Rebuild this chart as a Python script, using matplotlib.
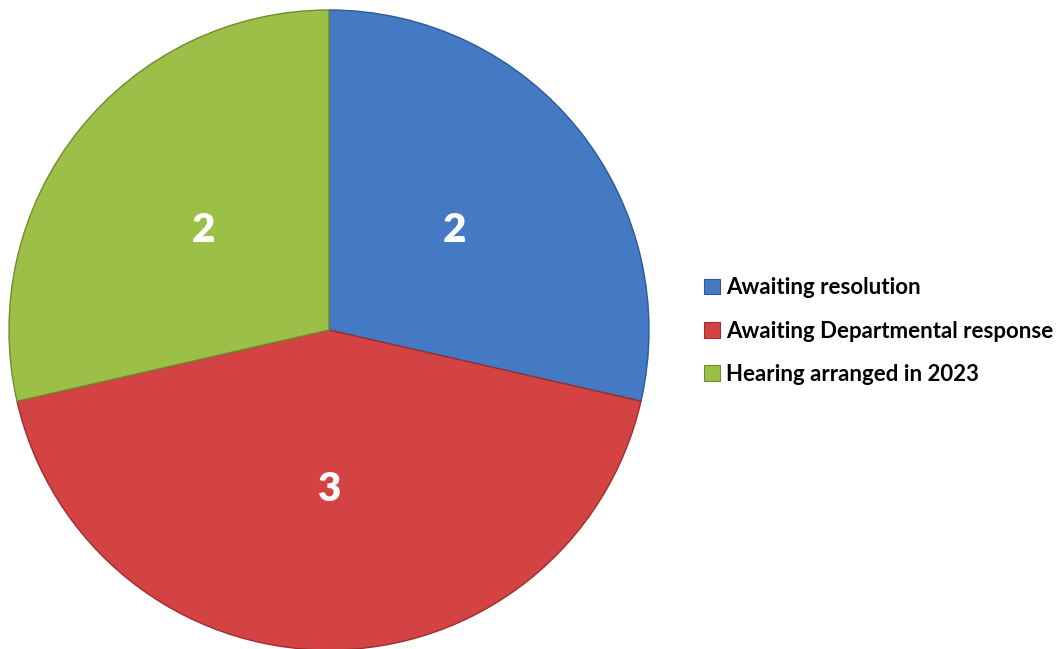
import matplotlib
matplotlib.use("Agg")
import matplotlib.pyplot as plt
import numpy as np
from matplotlib.patches import Patch

categories = ["Awaiting resolution", "Awaiting Departmental response", "Hearing arranged in 2023"]
values = [2, 3, 2]
colors = ["#4479c4", "#d44343", "#9cbf48"]
edge_colors = ["#2d5a94", "#9e2e2e", "#6f8c2e"]

plt.rcParams['font.family'] = ['Lato', 'DejaVu Sans']

fig = plt.figure(figsize=(10.59, 6.49), dpi=100)
ax = fig.add_axes([9/1059, -1/649, 640/1059, 640/649])

wedges, texts, autotexts = ax.pie(values, colors=colors, startangle=90, counterclock=False,
                                  autopct=lambda p: f"{int(round(p*sum(values)/100))}",
                                  pctdistance=0.5,
                                  wedgeprops=dict(linewidth=1.0),
                                  textprops=dict(color="white", fontsize=29, fontweight="heavy"))
for w, ec in zip(wedges, edge_colors):
    w.set_edgecolor(ec)
ax.set_xlim(-1.0, 1.0)
ax.set_ylim(-1.0, 1.0)
ax.set_aspect('equal')

handles = [Patch(facecolor=c, edgecolor=e, linewidth=0.8) for c, e in zip(colors, edge_colors)]
leg = fig.legend(handles, categories, loc='center left', bbox_to_anchor=(704/1059, 1 - 331/649),
                 frameon=False, prop=dict(size=16, weight='bold'),
                 handlelength=0.7, handleheight=0.7, handletextpad=0.3, labelspacing=1.0,
                 borderpad=0, borderaxespad=0)

fig.savefig("out.png", dpi=100)
